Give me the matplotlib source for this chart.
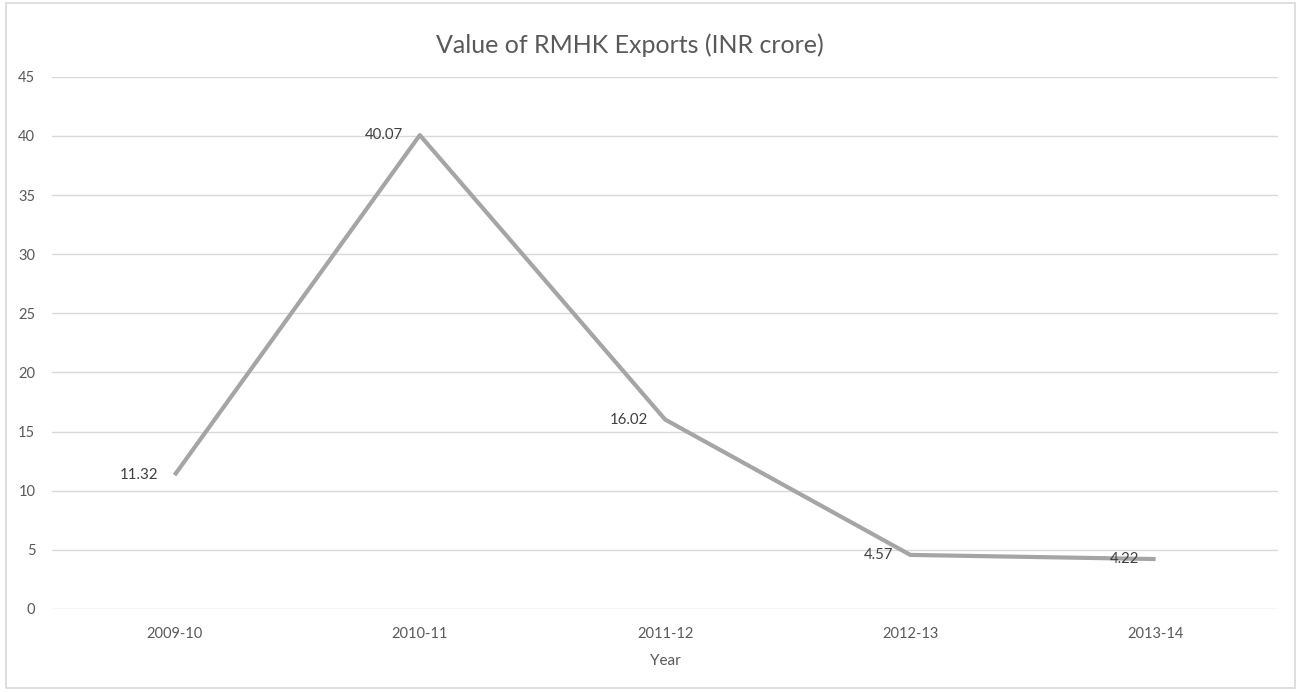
import matplotlib
matplotlib.use("Agg")
import matplotlib.pyplot as plt
from matplotlib.patches import Rectangle

plt.rcParams["font.family"] = ["Lato", "DejaVu Sans"]

# RMHK export values by financial year
years = ["2009-10", "2010-11", "2011-12", "2012-13", "2013-14"]
values = [11.32, 40.07, 16.02, 4.57, 4.22]
y_ticks = [0, 5, 10, 15, 20, 25, 30, 35, 40, 45]

text_color = "#595959"
line_color = "#A5A5A5"
grid_color = "#D9D9D9"

fig = plt.figure(figsize=(12.99, 6.92), dpi=100)
ax = fig.add_axes([0.040, 0.120, 0.944, 0.769])

# outer chart frame
fig.patches.append(Rectangle((0.005, 0.006), 0.992, 0.989, transform=fig.transFigure,
                             fill=False, edgecolor=grid_color, linewidth=1.2))

x = list(range(len(years)))
ax.plot(x, values, color=line_color, linewidth=3, solid_capstyle="butt", zorder=3)

for xi, v in zip(x, values):
    ax.annotate(f"{v:.2f}", (xi, v), xytext=(-12, 0), textcoords="offset points",
                ha="right", va="center", fontsize=10.8, color="#404040", zorder=4)

ax.set_xlim(-0.5, len(years) - 0.5)
ax.set_ylim(0, 45)
ax.set_xticks(x)
ax.set_xticklabels(years)
ax.set_yticks(y_ticks)
ax.tick_params(axis="both", length=0, labelsize=10.5, colors=text_color)
ax.tick_params(axis="x", pad=13)
ax.tick_params(axis="y", pad=12)
ax.grid(axis="y", color=grid_color, linewidth=1)
ax.set_axisbelow(True)
for s in ax.spines.values():
    s.set_visible(False)

ax.set_xlabel("Year", fontsize=11, color=text_color, labelpad=9)
fig.text(0.485, 0.935, "Value of RMHK Exports (INR crore)", ha="center", va="center",
         fontsize=18, color=text_color)

fig.savefig("out.png", dpi=100, facecolor="white")
